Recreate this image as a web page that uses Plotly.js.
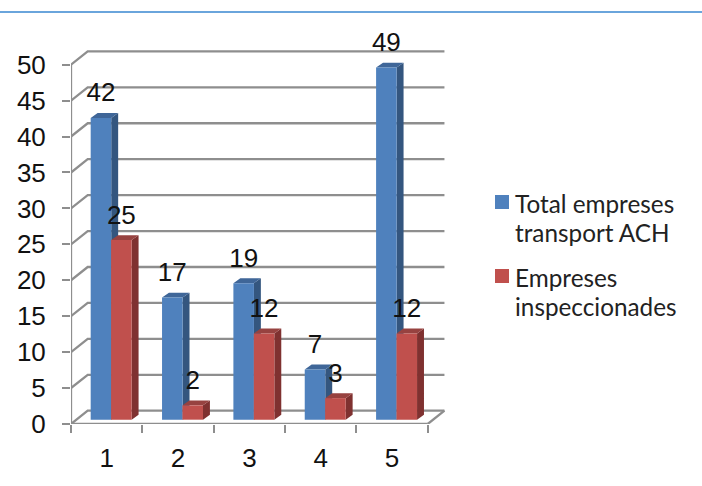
<!DOCTYPE html>
<html>
<head>
<meta charset="utf-8">
<script src="https://cdn.plot.ly/plotly-3.0.1.min.js"></script>
<style>html,body{margin:0;padding:0;background:#fff}#c{width:702px;height:486px}</style>
</head>
<body>
<div id="c"></div>
<script>
const categories = [1, 2, 3, 4, 5];
const totalEmpreses = [42, 17, 19, 7, 49];
const empresesInspeccionades = [25, 2, 12, 3, 12];
const yTicks = [0, 5, 10, 15, 20, 25, 30, 35, 40, 45, 50];
const xTickEdges = [0.5, 1.5, 2.5, 3.5, 4.5, 5.5];
const seriesNames = ['Total empreses<br>transport ACH', 'Empreses<br>inspeccionades'];
const seriesColors = ['#4f81bd', '#c0504d'];

const W = 702, H = 486, mL = 71, mR = 240, mT = 40, mB = 62;
const plotW = W - mL - mR, plotH = H - mT - mB;
const xRange = [0.5, 0.5 + plotW / 71.35], yRange = [0, plotH / 7.186];
const wallDX = 0.234, wallDY = 1.85;
const barBase = 0.6, barW = 0.288, blueOff = -0.224, redOff = 0.062;
const sideDX = 0.097, sideDY = 0.68;
const gridCol = '#8e8e8e', numFont = {family: 'Liberation Sans, Arial, sans-serif', size: 26, color: '#111'};
const legendFont = {family: 'Lato, sans-serif', size: 24.3, color: '#222'};
const px = p => (p - mL) / plotW, py = p => (H - mB - p) / plotH;

// walls and gridlines
const gx = [], gy = [];
yTicks.forEach(v => {
  gx.push(xTickEdges[0], xTickEdges[0] + wallDX, xTickEdges[5] + wallDX, null);
  gy.push(v, v + wallDY, v + wallDY, null);
});
gx.push(xTickEdges[5], xTickEdges[5] + wallDX, null);
gy.push(0, wallDY, null);
gx.push(xTickEdges[0], xTickEdges[0], null, xTickEdges[0], xTickEdges[5]);
gy.push(0, 50, null, 0, 0);

function faces(vals, off, sideCol, topCol) {
  const sx = [], sy = [], tx = [], ty = [];
  vals.forEach((v, i) => {
    const L = categories[i] + off, R = L + barW, T = barBase + v, B = barBase;
    sx.push(R, R + sideDX, R + sideDX, R, R, null);
    sy.push(B, B + sideDY, T + sideDY, T, B, null);
    tx.push(L, L + sideDX, R + sideDX, R, L, null);
    ty.push(T, T + sideDY, T + sideDY, T, T, null);
  });
  const mk = (x, y, c) => ({type: 'scatter', mode: 'lines', x, y, fill: 'toself', fillcolor: c,
    line: {width: 0, color: c}, showlegend: false, hoverinfo: 'skip', cliponaxis: false});
  return [mk(sx, sy, sideCol), mk(tx, ty, topCol)];
}
function bar(vals, off, col, name) {
  return {type: 'bar', x: categories, y: vals, base: barBase, width: barW, offset: off, name,
    marker: {color: col, line: {width: 0}}, xaxis: 'x2', yaxis: 'y2', hoverinfo: 'skip', cliponaxis: false, showlegend: false};
}
function labels(vals, off) {
  return {type: 'scatter', mode: 'text', x: categories.map(c => c + off + barW / 2),
    y: vals.map(v => v + barBase + 3.2), text: vals.map(String), textposition: 'middle center',
    textfont: numFont, showlegend: false, hoverinfo: 'skip', cliponaxis: false, xaxis: 'x2', yaxis: 'y2'};
}

const traces = [
  {type: 'scatter', mode: 'lines', x: gx, y: gy, line: {color: gridCol, width: 2.3}, showlegend: false, hoverinfo: 'skip', cliponaxis: false},
  ...faces(totalEmpreses, blueOff, '#34567f', '#3f6698'),
  ...faces(empresesInspeccionades, redOff, '#7f3130', '#974240'),
  bar(totalEmpreses, blueOff, seriesColors[0], seriesNames[0].replace('<br>', ' ')),
  bar(empresesInspeccionades, redOff, seriesColors[1], seriesNames[1].replace('<br>', ' ')),
  labels(totalEmpreses, blueOff),
  labels(empresesInspeccionades, redOff)
];

// legend: swatch tops and text centres, in page pixels
const swatchTop = [195, 269], lineMid = [[203, 232], [277, 306]];
const annotations = [], legendShapes = [];
seriesNames.forEach((n, i) => {
  legendShapes.push({type: 'rect', xref: 'paper', yref: 'paper', x0: px(495), x1: px(509),
    y0: py(swatchTop[i] + 14), y1: py(swatchTop[i]), fillcolor: seriesColors[i], line: {width: 0}});
  n.split('<br>').forEach((t, j) => annotations.push({xref: 'paper', yref: 'paper', x: px(514), y: py(lineMid[i][j]),
    xanchor: 'left', yanchor: 'middle', text: t, showarrow: false, font: legendFont, borderpad: 0}));
});

const layout = {
  width: W, height: H,
  margin: {l: mL, r: mR, t: mT, b: mB, pad: 0},
  paper_bgcolor: '#fff', plot_bgcolor: 'rgba(0,0,0,0)',
  barmode: 'overlay', hovermode: false, showlegend: false,
  xaxis: {range: xRange, tickmode: 'array', tickvals: categories, ticktext: categories.map(String),
    ticks: '', ticklabelstandoff: 16, tickfont: numFont, showgrid: false, zeroline: false, showline: false},
  yaxis: {range: yRange, tickmode: 'array', tickvals: yTicks, ticktext: yTicks.map(String),
    ticks: 'outside', ticklen: 8, tickwidth: 2, tickcolor: gridCol, ticklabelstandoff: 11,
    tickfont: numFont, showgrid: false, zeroline: false, showline: false},
  xaxis2: {range: xRange, overlaying: 'x', anchor: 'y2', tickmode: 'array', tickvals: xTickEdges,
    ticktext: xTickEdges.map(() => ''), ticks: 'outside', ticklen: 8, tickwidth: 2, tickcolor: gridCol,
    showgrid: false, zeroline: false, showline: false},
  yaxis2: {range: yRange, overlaying: 'y', anchor: 'x2', visible: false, showgrid: false, zeroline: false},
  annotations,
  shapes: [{type: 'line', xref: 'paper', yref: 'paper', x0: px(0), x1: px(W), y0: py(12), y1: py(12),
    line: {color: '#6aa5dc', width: 2}}, ...legendShapes]
};
Plotly.newPlot('c', traces, layout, {staticPlot: true, displayModeBar: false});
</script>
</body>
</html>
